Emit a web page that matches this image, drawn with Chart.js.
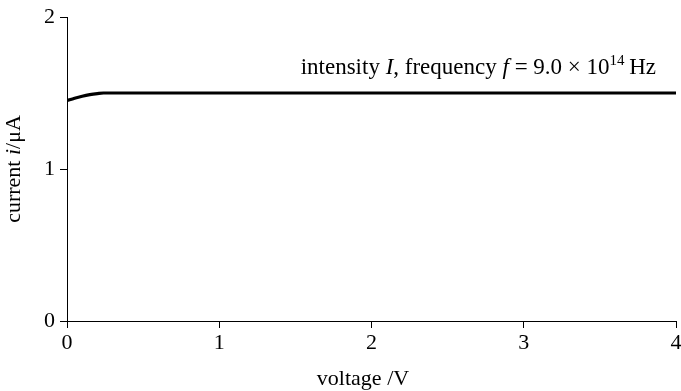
<!DOCTYPE html>
<html>
<head>
<meta charset="utf-8">
<script src="https://cdn.jsdelivr.net/npm/chart.js@4/dist/chart.umd.min.js"></script>
<style>
html,body{margin:0;padding:0;background:#fff;}
#wrap{width:681px;height:391px;}
</style>
</head>
<body>
<div id="wrap"><canvas id="c" width="681" height="391"></canvas></div>
<script>
const voltage = [0, 0.05, 0.1, 0.15, 0.2, 0.24, 4];
const current = [1.45, 1.466, 1.479, 1.489, 1.496, 1.5, 1.5];
const xTicks = [0, 1, 2, 3, 4];
const yTicks = [0, 1, 2];
const xTitle = 'voltage /V';
const yTitleParts = [['current ', false], ['i', true], ['/μA', false]];
const labelParts = [
  ['intensity ', false, false], ['I', true, false], [', frequency ', false, false],
  ['f', true, false], [' = 9.0 × 10', false, false], ['14', false, true], ['\u2009Hz', false, false]
];

const FONT = 'Liberation Serif, Times New Roman, serif';
const FS = 22;
const LABEL_FS = 23;

function drawParts(ctx, parts, x, y, size) {
  let cx = x;
  for (const p of parts) {
    const sup = p[2];
    const s = sup ? Math.round(size * 0.65) : size;
    ctx.font = (p[1] ? 'italic ' : '') + s + 'px ' + FONT;
    ctx.fillText(p[0], cx, sup ? y - size * 0.38 : y);
    cx += ctx.measureText(p[0]).width;
  }
  return cx - x;
}
function measureParts(ctx, parts, size) {
  let w = 0;
  for (const p of parts) {
    const s = p[2] ? Math.round(size * 0.65) : size;
    ctx.font = (p[1] ? 'italic ' : '') + s + 'px ' + FONT;
    w += ctx.measureText(p[0]).width;
  }
  return w;
}

const textPlugin = {
  id: 'texts',
  afterDraw(chart) {
    const ctx = chart.ctx;
    const ca = chart.chartArea;
    ctx.save();
    ctx.fillStyle = '#000';
    ctx.textBaseline = 'alphabetic';
    ctx.textAlign = 'left';
    // annotation label, right end at ~656
    const wl = measureParts(ctx, labelParts, LABEL_FS);
    drawParts(ctx, labelParts, 656 - wl, 74, LABEL_FS);
    // x title
    ctx.font = FS + 'px ' + FONT;
    const wx = ctx.measureText(xTitle).width;
    ctx.fillText(xTitle, 363 - wx / 2, 385);
    // y title rotated
    ctx.translate(20, (ca.top + ca.bottom) / 2);
    ctx.rotate(-Math.PI / 2);
    const wy = measureParts(ctx, yTitleParts, FS);
    drawParts(ctx, yTitleParts, -wy / 2, 0, FS);
    ctx.restore();
  }
};

new Chart(document.getElementById('c'), {
  type: 'line',
  data: {
    datasets: [{
      data: voltage.map((v, i) => ({x: v, y: current[i]})),
      borderColor: '#000',
      borderWidth: 3.2,
      pointRadius: 0,
      fill: false,
      cubicInterpolationMode: 'monotone'
    }]
  },
  options: {
    responsive: false,
    animation: false,
    devicePixelRatio: 1,
    layout: {padding: {left: 0, top: 17, right: 5, bottom: 0}},
    plugins: {legend: {display: false}, tooltip: {enabled: false}},
    scales: {
      x: {
        type: 'linear', min: 0, max: 4,
        afterBuildTicks: s => { s.ticks = xTicks.map(v => ({value: v})); },
        afterFit: s => { s.height = 70; s.paddingLeft = 0; s.paddingRight = 0; },
        ticks: {color: '#000', padding: 2, font: {family: FONT, size: FS}, maxRotation: 0, autoSkip: false},
        grid: {display: true, drawOnChartArea: false, drawTicks: true, tickLength: 7, color: '#000', lineWidth: 1},
        border: {display: true, color: '#000', width: 1}
      },
      y: {
        type: 'linear', min: 0, max: 2,
        afterBuildTicks: s => { s.ticks = yTicks.map(v => ({value: v})); },
        afterFit: s => { s.width = 67; s.paddingTop = 0; s.paddingBottom = 0; },
        ticks: {color: '#000', padding: 5, font: {family: FONT, size: FS}},
        grid: {display: true, drawOnChartArea: false, drawTicks: true, tickLength: 7, color: '#000', lineWidth: 1},
        border: {display: true, color: '#000', width: 1}
      }
    }
  },
  plugins: [textPlugin]
});
</script>
</body>
</html>
